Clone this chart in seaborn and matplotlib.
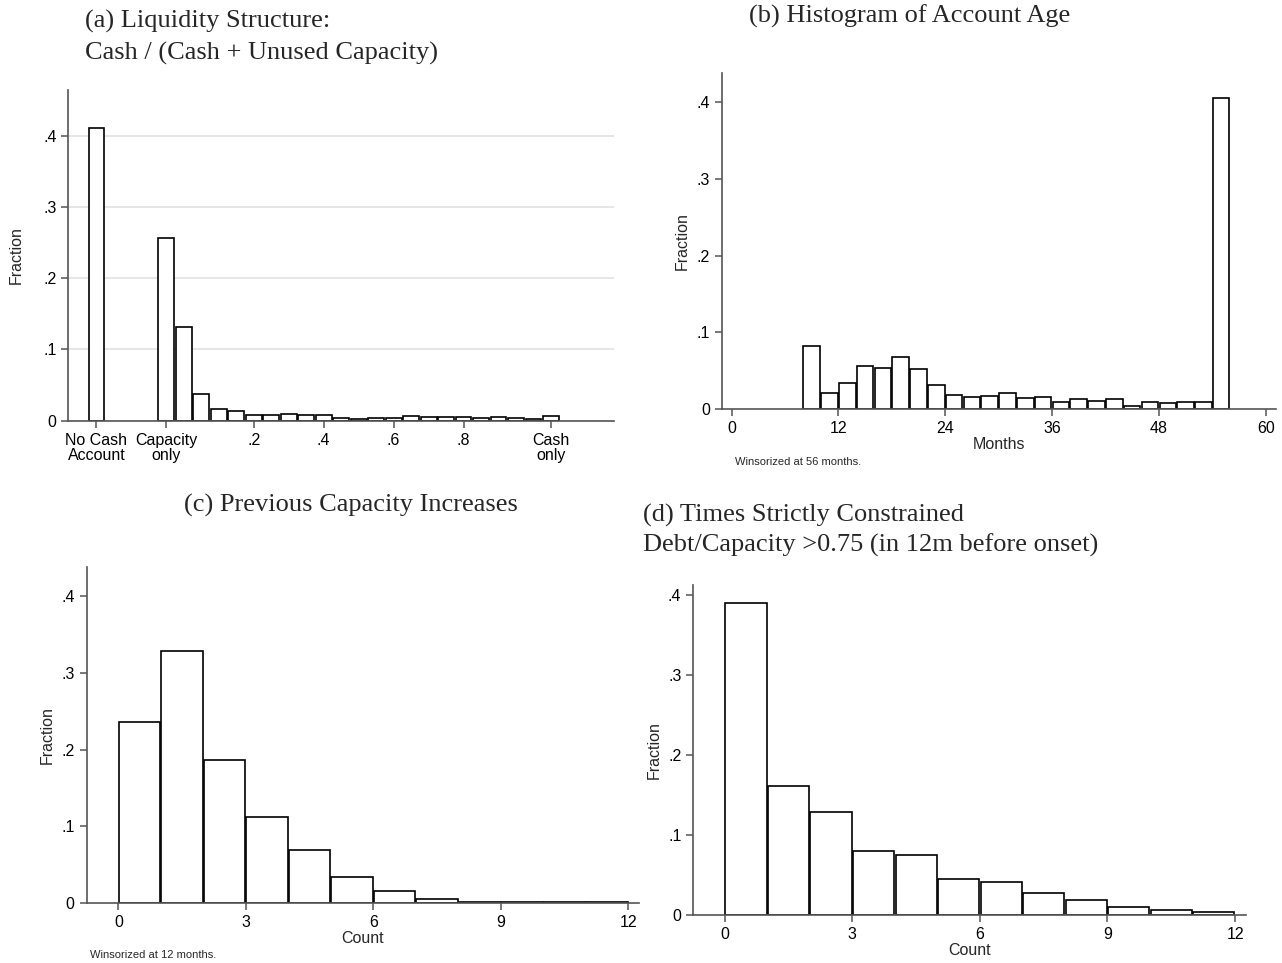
import matplotlib
matplotlib.use("Agg")
import matplotlib.pyplot as plt
import seaborn as sns
from matplotlib.ticker import FuncFormatter

# panel (a): liquidity structure, bar centres and fractions
a_centers = [-0.25, -0.05, 0.0, 0.05, 0.10, 0.15, 0.20, 0.25, 0.30, 0.35, 0.40, 0.45,
             0.50, 0.55, 0.60, 0.65, 0.70, 0.75, 0.80, 0.85, 0.90, 0.95, 1.00, 1.05]
a_frac = [0.410, 0.256, 0.132, 0.038, 0.017, 0.013, 0.0084, 0.0084, 0.0089, 0.0075,
          0.0080, 0.0042, 0.0020, 0.0042, 0.0042, 0.0065, 0.0056, 0.0056, 0.0050,
          0.0040, 0.0056, 0.0040, 0.0030, 0.0060]
a_tick_pos = [-0.25, -0.05, 0.2, 0.4, 0.6, 0.8, 1.05]
a_tick_lab = ["No Cash\nAccount", "Capacity\nonly", ".2", ".4", ".6", ".8", "Cash\nonly"]

# panel (b): account age in months, 2-month bins
b_edges = [8, 10, 12, 14, 16, 18, 20, 22, 24, 26, 28, 30, 32, 34, 36, 38, 40, 42,
           44, 46, 48, 50, 52, 54, 56]
b_frac = [0.0814, 0.0209, 0.033, 0.056, 0.0527, 0.067, 0.0514, 0.0313, 0.0174,
          0.0148, 0.017, 0.020, 0.0139, 0.0148, 0.0087, 0.013, 0.0104, 0.013,
          0.0039, 0.0083, 0.0078, 0.0087, 0.009, 0.406]

# panel (c): previous capacity increases
c_edges = [0, 1, 2, 3, 4, 5, 6, 7, 8, 9, 10, 11, 12]
c_frac = [0.236, 0.329, 0.187, 0.1115, 0.069, 0.0336, 0.0157, 0.0052,
          0.0010, 0.0008, 0.0005, 0.0005]

# panel (d): times strictly constrained
d_edges = [0, 1, 2, 3, 4, 5, 6, 7, 8, 9, 10, 11, 12]
d_frac = [0.390, 0.161, 0.128, 0.080, 0.075, 0.045, 0.041, 0.028, 0.019,
          0.0096, 0.0067, 0.0042]

sns.set_style("ticks")
plt.rcParams["font.family"] = ["Liberation Sans", "DejaVu Sans"]

W, H = 1282, 963
TITLE_FONT = dict(family="Liberation Serif", fontsize=19, va="center")
fig = plt.figure(figsize=(W / 100, H / 100), dpi=100)


def box(l, r, t, b):
    return [l / W, 1 - b / H, (r - l) / W, (b - t) / H]


def frac_fmt(v, pos):
    return "0" if abs(v) < 1e-9 else f"{v:.1f}".lstrip("0")


def style(ax, ylim_top):
    for s in ["top", "right"]:
        ax.spines[s].set_visible(False)
    for s in ["left", "bottom"]:
        ax.spines[s].set_color("#555555")
        ax.spines[s].set_linewidth(1.2)
    ax.tick_params(direction="out", length=5, width=1.1, color="#555555",
                   labelsize=11.5, labelcolor="black")
    ax.set_ylim(0, ylim_top)
    ax.set_yticks([0, 0.1, 0.2, 0.3, 0.4])
    ax.yaxis.set_major_formatter(FuncFormatter(frac_fmt))
    ax.set_ylabel("Fraction", fontsize=11.5)


def hist(ax, edges, frac, shrink):
    mids = [(edges[i] + edges[i + 1]) / 2 for i in range(len(frac))]
    sns.histplot(x=mids, weights=frac, bins=edges, stat="count", shrink=shrink,
                 color="white", edgecolor="black", linewidth=1.2, alpha=1, ax=ax)


# (a)
ax = fig.add_axes(box(68.4, 614, 90, 420.7))
ax.set_axisbelow(True)
sns.barplot(x=a_centers, y=a_frac, native_scale=True, width=0.9, color="white",
            saturation=1, edgecolor="black", linewidth=1.2, errorbar=None, ax=ax)
style(ax, 0.464)
ax.yaxis.grid(True, color="#e2e2e2", linewidth=1.2)
ax.set_xlim(-0.33, 1.23)
ax.set_xticks(a_tick_pos)
ax.set_xticklabels(a_tick_lab, linespacing=1.0)
ax.yaxis.set_label_coords(-0.082, 0.5)
fig.text(85 / W, 1 - 21 / H, "(a) Liquidity Structure:", ha="left", **TITLE_FONT)
fig.text(85 / W, 1 - 53 / H, "Cash / (Cash + Unused Capacity)", ha="left", **TITLE_FONT)

# (b)
ax = fig.add_axes(box(721.8, 1275.5, 73.3, 408.7))
hist(ax, b_edges, b_frac, 0.93)
style(ax, 0.438)
ax.set_xlim(-1.1, 61.1)
ax.set_xticks([0, 12, 24, 36, 48, 60])
ax.set_xlabel("Months", fontsize=11.5, labelpad=1)
ax.yaxis.set_label_coords(-0.057, 0.5)
fig.text(910 / W, 1 - 16 / H, "(b) Histogram of Account Age", ha="center", **TITLE_FONT)
fig.text(735 / W, 1 - 462 / H, "Winsorized at 56 months.", fontsize=8, va="center")

# (c)
ax = fig.add_axes(box(86.5, 638.8, 567.3, 902.7))
hist(ax, c_edges, c_frac, 0.97)
style(ax, 0.438)
ax.set_xlim(-0.75, 12.25)
ax.set_xticks([0, 3, 6, 9, 12])
ax.set_xlabel("Count", fontsize=11.5, labelpad=1)
ax.yaxis.set_label_coords(-0.057, 0.5)
fig.text(351 / W, 1 - 505 / H, "(c) Previous Capacity Increases", ha="center", **TITLE_FONT)
fig.text(90 / W, 1 - 955 / H, "Winsorized at 12 months.", fontsize=8, va="center")

# (d)
ax = fig.add_axes(box(693.3, 1245.7, 585, 915))
hist(ax, d_edges, d_frac, 0.97)
style(ax, 0.412)
ax.set_xlim(-0.74, 12.25)
ax.set_xticks([0, 3, 6, 9, 12])
ax.set_xlabel("Count", fontsize=11.5, labelpad=1)
ax.yaxis.set_label_coords(-0.057, 0.5)
fig.text(643 / W, 1 - 515 / H, "(d) Times Strictly Constrained", ha="left", **TITLE_FONT)
fig.text(643 / W, 1 - 545 / H, "Debt/Capacity >0.75 (in 12m before onset)",
         ha="left", **TITLE_FONT)

fig.savefig("out.png", dpi=100)
